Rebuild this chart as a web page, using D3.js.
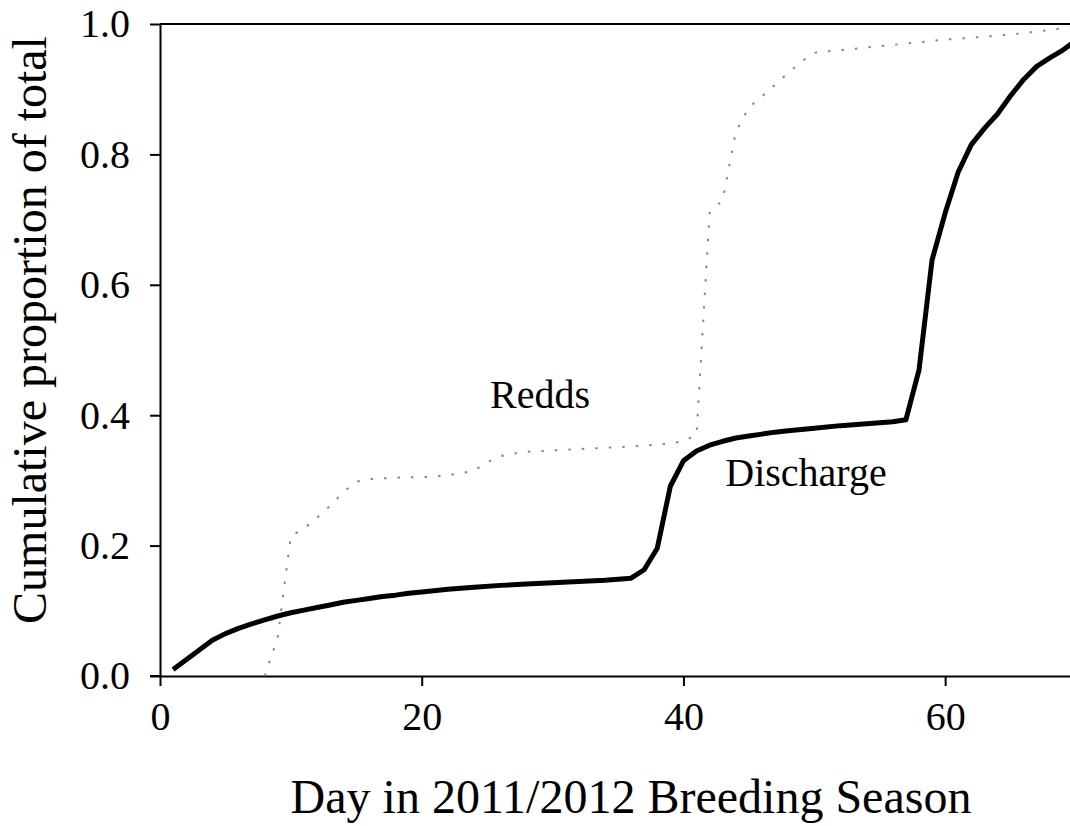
<!DOCTYPE html>
<html>
<head>
<meta charset="utf-8">
<script src="https://cdn.jsdelivr.net/npm/d3@7"></script>
<style>
  html, body { margin: 0; padding: 0; background: #fff; }
  svg { display: block; font-family: "Liberation Serif", "Times New Roman", serif; }
</style>
</head>
<body>
<svg id="chart" width="1070" height="826"></svg>
<script>
// discharge, cumulative proportion by day
const dischargeDays = [1, 2, 3, 4, 5, 6, 7, 8, 9, 10, 11, 12, 13, 14, 15, 16, 17, 18, 19, 20,
  22, 24, 26, 28, 30, 32, 34, 36, 37, 38, 39, 40, 41, 42, 43, 44, 45, 46, 47, 48, 50, 52, 54, 56, 57,
  58, 59, 60, 61, 62, 63, 64, 65, 66, 67, 68, 69, 70];
const dischargeValues = [0.010, 0.025, 0.040, 0.055, 0.065, 0.073, 0.080, 0.086, 0.092, 0.097, 0.101, 0.105, 0.109, 0.113, 0.116, 0.119, 0.122, 0.124, 0.127, 0.129,
  0.133, 0.136, 0.139, 0.141, 0.143, 0.145, 0.147, 0.150, 0.163, 0.196, 0.291, 0.330, 0.345, 0.354, 0.360, 0.365, 0.368, 0.371, 0.374, 0.376, 0.380, 0.384, 0.387, 0.390, 0.393,
  0.469, 0.638, 0.710, 0.773, 0.815, 0.840, 0.862, 0.890, 0.915, 0.935, 0.948, 0.960, 0.975];

// redds, cumulative proportion by day
const reddDays = [8, 9, 10, 11, 12, 13, 14, 15, 16, 17, 18, 19, 20, 21, 22, 23, 24, 25, 26, 27, 28,
  30, 32, 34, 36, 38, 39, 40, 41, 42, 43, 44, 45, 46, 47, 48, 49, 50, 51, 52, 54, 56, 58, 60, 62, 64, 66, 68, 70];
const reddValues = [0.000, 0.060, 0.215, 0.226, 0.243, 0.261, 0.282, 0.298, 0.302, 0.303, 0.304, 0.305, 0.305, 0.306, 0.308, 0.311, 0.315, 0.328, 0.337, 0.341, 0.344,
  0.346, 0.348, 0.350, 0.352, 0.355, 0.357, 0.360, 0.370, 0.710, 0.730, 0.835, 0.872, 0.889, 0.907, 0.925, 0.942, 0.956, 0.958, 0.960, 0.964, 0.968, 0.972, 0.976, 0.979, 0.982, 0.986, 0.991, 0.996];

const xTicks = [0, 20, 40, 60];
const yTicks = [0, 0.2, 0.4, 0.6, 0.8, 1.0];

const xTitle = 'Day in 2011/2012 Breeding Season';
const yTitle = 'Cumulative proportion of total';

const svg = d3.select('#chart');

const x = d3.scaleLinear().domain([0, 70]).range([160, 1076]);
const y = d3.scaleLinear().domain([0, 1]).range([676, 24]);

// axes
const xAxis = svg.append('g')
  .attr('transform', `translate(0,${y(0)})`)
  .call(d3.axisBottom(x).tickValues(xTicks).tickFormat(d3.format('d')).tickSize(10).tickSizeOuter(0).tickPadding(16));

const yAxis = svg.append('g')
  .attr('transform', `translate(${x(0)},0)`)
  .call(d3.axisLeft(y).tickValues(yTicks).tickFormat(d3.format('.1f')).tickSize(10).tickSizeOuter(0).tickPadding(20));

[xAxis, yAxis].forEach(a => {
  a.select('.domain').attr('stroke', '#000').attr('stroke-width', 2);
  a.selectAll('.tick line').attr('stroke', '#000').attr('stroke-width', 2);
  a.selectAll('.tick text')
    .attr('fill', '#000')
    .style('font-family', '"Liberation Serif", "Times New Roman", serif')
    .style('font-size', '40px');
});

// extend x axis to the left to meet the 0.0 tick
svg.append('line')
  .attr('x1', x(0) - 10).attr('x2', x(0))
  .attr('y1', y(0)).attr('y2', y(0))
  .attr('stroke', '#000').attr('stroke-width', 2);

// top border
svg.append('line')
  .attr('x1', x(0)).attr('x2', x(70))
  .attr('y1', y(1)).attr('y2', y(1))
  .attr('stroke', '#000').attr('stroke-width', 2);

const line = d3.line()
  .x(d => x(d[0]))
  .y(d => y(d[1]));

const reddPoints = reddDays.map((d, i) => [d, reddValues[i]]);
const dischargePoints = dischargeDays.map((d, i) => [d, dischargeValues[i]]);

svg.append('path')
  .datum(reddPoints)
  .attr('d', line)
  .attr('fill', 'none')
  .attr('stroke', '#888')
  .attr('stroke-width', 2)
  .attr('stroke-dasharray', '2.5 11');

svg.append('path')
  .datum(dischargePoints)
  .attr('d', line)
  .attr('fill', 'none')
  .attr('stroke', '#000')
  .attr('stroke-width', 5)
  .attr('stroke-linejoin', 'round');

// series labels
svg.append('text')
  .attr('x', 540).attr('y', 408)
  .attr('text-anchor', 'middle')
  .style('font-size', '40px')
  .text('Redds');

svg.append('text')
  .attr('x', 806).attr('y', 486)
  .attr('text-anchor', 'middle')
  .style('font-size', '40px')
  .text('Discharge');

// axis titles
svg.append('text')
  .attr('x', 631).attr('y', 813)
  .attr('text-anchor', 'middle')
  .style('font-size', '48px')
  .text(xTitle);

svg.append('text')
  .attr('transform', 'translate(46,330) rotate(-90)')
  .attr('text-anchor', 'middle')
  .style('font-size', '48px')
  .text(yTitle);
</script>
</body>
</html>
